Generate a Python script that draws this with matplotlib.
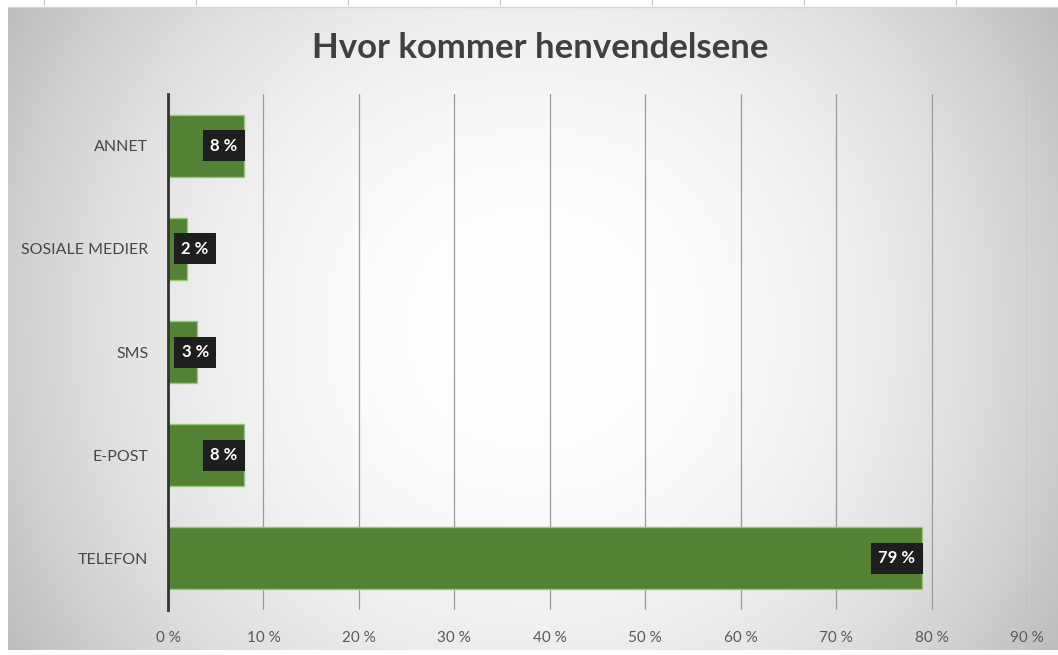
import numpy as np
import matplotlib
matplotlib.use("Agg")
import matplotlib.pyplot as plt

categories = ["TELEFON", "E-POST", "SMS", "SOSIALE MEDIER", "ANNET"]
values = [79, 8, 3, 2, 8]
xticks = [0, 10, 20, 30, 40, 50, 60, 70, 80, 90]
xtick_labels = [f"{t} %" for t in xticks]
title = "Hvor kommer henvendelsene"

W, H = 1058, 655
fig = plt.figure(figsize=(W / 100, H / 100), dpi=100)
fig.patch.set_facecolor("white")

# background chart area with radial gradient
bg = fig.add_axes([8 / W, 5 / H, 1 - 8 / W, (650 - 7) / H])
bg.set_axis_off()
yy, xx = np.mgrid[-1:1:300j, -1:1:500j]
val = 1.0 - 0.19 * np.abs(xx) ** 2.2 - 0.07 * np.abs(yy) ** 2.2
val = np.clip(val, 0, 1)
img = np.dstack([val, val, val])
bg.imshow(img, aspect="auto", extent=[0, 1, 0, 1], interpolation="bilinear")
bg.set_xlim(0, 1)
bg.set_ylim(0, 1)

# ruler-like ticks at top
top = fig.add_axes([0, 0, 1, 1], facecolor="none")
top.set_axis_off()
top.set_xlim(0, W)
top.set_ylim(H, 0)
for x in [44, 196, 348, 500, 652, 804, 956]:
    top.plot([x, x], [0, 5], color="#c8c8c8", lw=0.8)
top.plot([8, W], [7, 7], color="#d6d6d6", lw=1)

ax = fig.add_axes([168 / W, (H - 610) / H, (1027 - 168) / W, (610 - 94) / H], facecolor="none")
ax.set_xlim(0, 90)
ax.set_ylim(-0.5, 4.5)
ypos = np.arange(len(categories))
ax.barh(ypos, values, height=0.6, color="#548235", edgecolor="#8fce6a", linewidth=1.0, zorder=3)

ax.set_xticks(xticks)
ax.set_xticklabels(xtick_labels, family="Lato", fontsize=11, color="#595959")
ax.set_yticks(ypos)
ax.set_yticklabels(categories, family="Lato", fontsize=11.5, color="#474747")
ax.tick_params(axis="both", length=0)
ax.tick_params(axis="x", pad=15)
ax.tick_params(axis="y", pad=14)
ax.grid(axis="x", color="#9a9a9a", lw=0.9, zorder=0)
for s in ["top", "right", "bottom"]:
    ax.spines[s].set_visible(False)
ax.spines["left"].set_color("#333333")
ax.spines["left"].set_linewidth(2)
ax.spines["left"].set_zorder(4)

fig.text(540 / W, 1 - 48 / H, title, ha="center", va="center", fontsize=25,
         fontweight="bold", color="#404040", family="Lato")

# data labels: inside end, but never crossing the axis
fig.canvas.draw()
renderer = fig.canvas.get_renderer()
px_per_unit = ax.transData.transform((1, 0))[0] - ax.transData.transform((0, 0))[0]
for y, v in zip(ypos, values):
    t = ax.text(v - 7 / px_per_unit, y, f"{v} %", ha="right", va="center", color="white",
                fontsize=12, fontweight="bold", family="Lato",
                bbox=dict(boxstyle="square,pad=0.45", facecolor="#1e1e1e", edgecolor="none"), zorder=5)
    fig.canvas.draw()
    bb = t.get_bbox_patch().get_window_extent(renderer)
    x0_axis = ax.transData.transform((0, 0))[0]
    if bb.x0 < x0_axis + 6:
        shift = (x0_axis + 6 - bb.x0) / px_per_unit
        t.set_x(t.get_position()[0] + shift)

fig.savefig("out.png", dpi=100, facecolor=fig.get_facecolor())
